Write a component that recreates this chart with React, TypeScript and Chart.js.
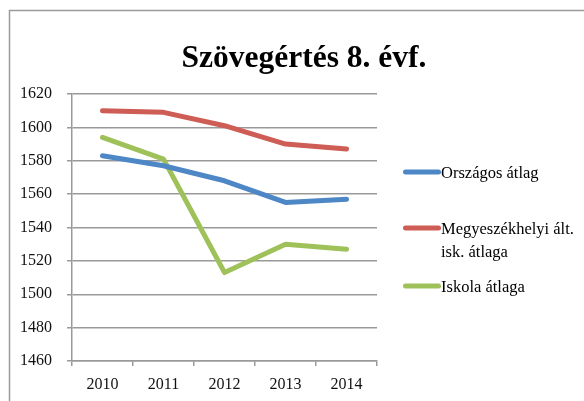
import React, { useEffect, useRef } from "react";
import { Chart, registerables } from "chart.js";

Chart.register(...registerables);

const titleText = "Szövegértés 8. évf.";
const years = ["2010", "2011", "2012", "2013", "2014"];
const orszagos = [1583, 1577, 1568, 1555, 1557];
const megyeszekhelyi = [1610, 1609, 1601, 1590, 1587];
const iskola = [1594, 1581, 1513, 1530, 1527];
const seriesNames = ["Országos átlag", "Megyeszékhelyi ált. isk. átlaga", "Iskola átlaga"];
const seriesColors = ["#4d87c6", "#cd5d55", "#9fc15a"];
const yMin = 1460;
const yMax = 1620;
const yStep = 20;

const SERIF = "'Liberation Serif', 'Times New Roman', serif";

const framePlugin = {
  id: "frameTitleLegend",
  beforeDraw(chart: any) {
    const ctx = chart.ctx;
    ctx.save();
    ctx.fillStyle = "#ffffff";
    ctx.fillRect(0, 0, chart.width, chart.height);
    ctx.strokeStyle = "#9a9a9a";
    ctx.lineWidth = 1.5;
    ctx.strokeRect(9.5, 10.5, 800, 600);
    ctx.restore();
  },
  afterDraw(chart: any) {
    const ctx = chart.ctx;
    ctx.save();
    // title
    ctx.font = `bold 31.5px ${SERIF}`;
    ctx.fillStyle = "#000";
    ctx.textAlign = "center";
    ctx.textBaseline = "alphabetic";
    ctx.fillText(titleText, 304, 67);
    // legend
    const lineYs = [172, 228, 286];
    ctx.font = `16.5px ${SERIF}`;
    ctx.textAlign = "left";
    chart.data.datasets.forEach((ds: any, i: number) => {
      const y = lineYs[i];
      ctx.strokeStyle = ds.borderColor;
      ctx.lineWidth = 5;
      ctx.lineCap = "round";
      ctx.beginPath();
      ctx.moveTo(405.5, y);
      ctx.lineTo(438.5, y);
      ctx.stroke();
      const words = String(ds.label).split(" ");
      const lines: string[] = [];
      let cur = "";
      words.forEach((w: string) => {
        const test = cur ? cur + " " + w : w;
        if (ctx.measureText(test).width > 140 && cur) {
          lines.push(cur);
          cur = w;
        } else cur = test;
      });
      if (cur) lines.push(cur);
      ctx.fillStyle = "#000";
      lines.forEach((ln, k) => {
        ctx.fillText(ln, 441, y + 5.5 + k * 23);
      });
    });
    ctx.restore();
  },
};

export default function App() {
  const ref = useRef<HTMLCanvasElement | null>(null);
  useEffect(() => {
    if (!ref.current) return;
    const mk = (label: string, data: number[], color: string) => ({
      label,
      data,
      borderColor: color,
      backgroundColor: color,
      borderWidth: 5,
      pointRadius: 0,
      pointHoverRadius: 0,
      tension: 0,
      borderCapStyle: "round" as const,
      borderJoinStyle: "round" as const,
      fill: false,
    });
    const chart = new Chart(ref.current, {
      type: "line",
      data: {
        labels: years,
        datasets: [
          mk(seriesNames[0], orszagos, seriesColors[0]),
          mk(seriesNames[1], megyeszekhelyi, seriesColors[1]),
          mk(seriesNames[2], iskola, seriesColors[2]),
        ],
      },
      plugins: [framePlugin],
      options: {
        responsive: false,
        animation: false,
        devicePixelRatio: 1,
        layout: { padding: { top: 94, right: 207, bottom: 0, left: 0 } },
        plugins: {
          legend: { display: false },
          title: { display: false },
          tooltip: { enabled: false },
        },
        scales: {
          x: {
            offset: true,
            grid: {
              display: true,
              drawOnChartArea: false,
              drawTicks: true,
              tickLength: 5,
              color: "#999",
              lineWidth: 1.5,
              offset: true,
            },
            border: { display: true, color: "#999", width: 1.5 },
            ticks: {
              color: "#111",
              font: { family: SERIF, size: 16 },
              padding: 9,
              maxRotation: 0,
            },
            afterFit: (s: any) => {
              s.height = 40;
            },
          },
          y: {
            min: yMin,
            max: yMax,
            grid: {
              color: "#999",
              lineWidth: 1.5,
              drawTicks: true,
              tickLength: 5,
            },
            border: { display: true, color: "#999", width: 1.5 },
            ticks: {
              stepSize: yStep,
              color: "#111",
              font: { family: SERIF, size: 16 },
              padding: 15,
              callback: (v: any) => String(v),
            },
            afterFit: (s: any) => {
              s.width = 72;
            },
          },
        },
      },
    });
    return () => chart.destroy();
  }, []);
  return (
    <div style={{ position: "fixed", left: 0, top: 0, width: 584, height: 401, overflow: "hidden", background: "#fff" }}>
      <canvas ref={ref} width={584} height={401} style={{ display: "block", width: 584, height: 401 }} />
    </div>
  );
}
